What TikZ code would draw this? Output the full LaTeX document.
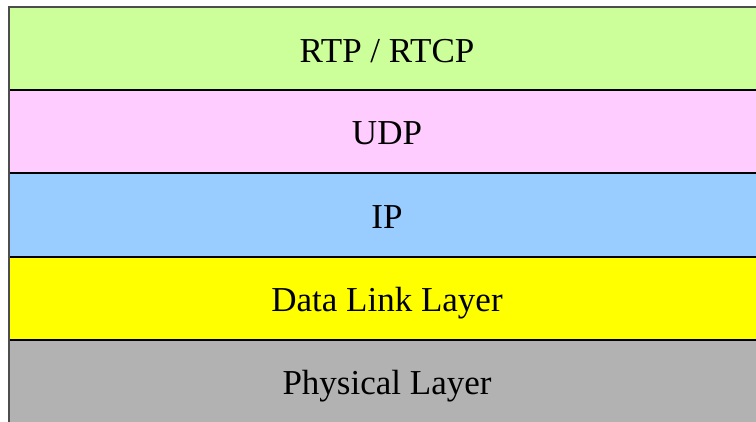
\documentclass[tikz,border=0pt]{standalone}
\usepackage{fontspec}
\setmainfont{Liberation Serif}
\definecolor{rtpgreen}{HTML}{CCFF99}
\definecolor{udppink}{HTML}{FFCCFF}
\definecolor{ipblue}{HTML}{99CCFF}
\definecolor{linkyellow}{HTML}{FFFF00}
\definecolor{physgray}{HTML}{B2B2B2}
\definecolor{edgegray}{HTML}{4D4D4D}
\tikzset{
  layer/.style={draw=black, line width=1.3pt},
  layertext/.style={anchor=base, font=\fontsize{35}{40}\selectfont, inner sep=0pt}
}
\begin{document}
\begin{tikzpicture}[x=1pt, y=-1pt]
  \useasboundingbox (0,0) rectangle (756,422);
  \begin{scope}
    \clip (0,0) rectangle (756,422);
    % protocol stack, one band per layer
    \path[layer, fill=rtpgreen]   (9,7)   rectangle (766,90);
    \path[layer, fill=udppink]    (9,90)  rectangle (766,173);
    \path[layer, fill=ipblue]     (9,173) rectangle (766,257);
    \path[layer, fill=linkyellow] (9,257) rectangle (766,340);
    \path[layer, fill=physgray]   (9,340) rectangle (766,430);
    % outer frame edges
    \draw[edgegray, line width=1.5pt] (9,430) -- (9,7) -- (766,7);
  \end{scope}
  \node[layertext] (rtp)  at (387,62.5)  {RTP / RTCP};
  \node[layertext] (udp)  at (387,145)   {UDP};
  \node[layertext] (ip)   at (387,229)   {IP};
  \node[layertext] (link) at (387,312)   {Data Link Layer};
  \node[layertext] (phys) at (387,394.5) {Physical Layer};
\end{tikzpicture}
\end{document}
